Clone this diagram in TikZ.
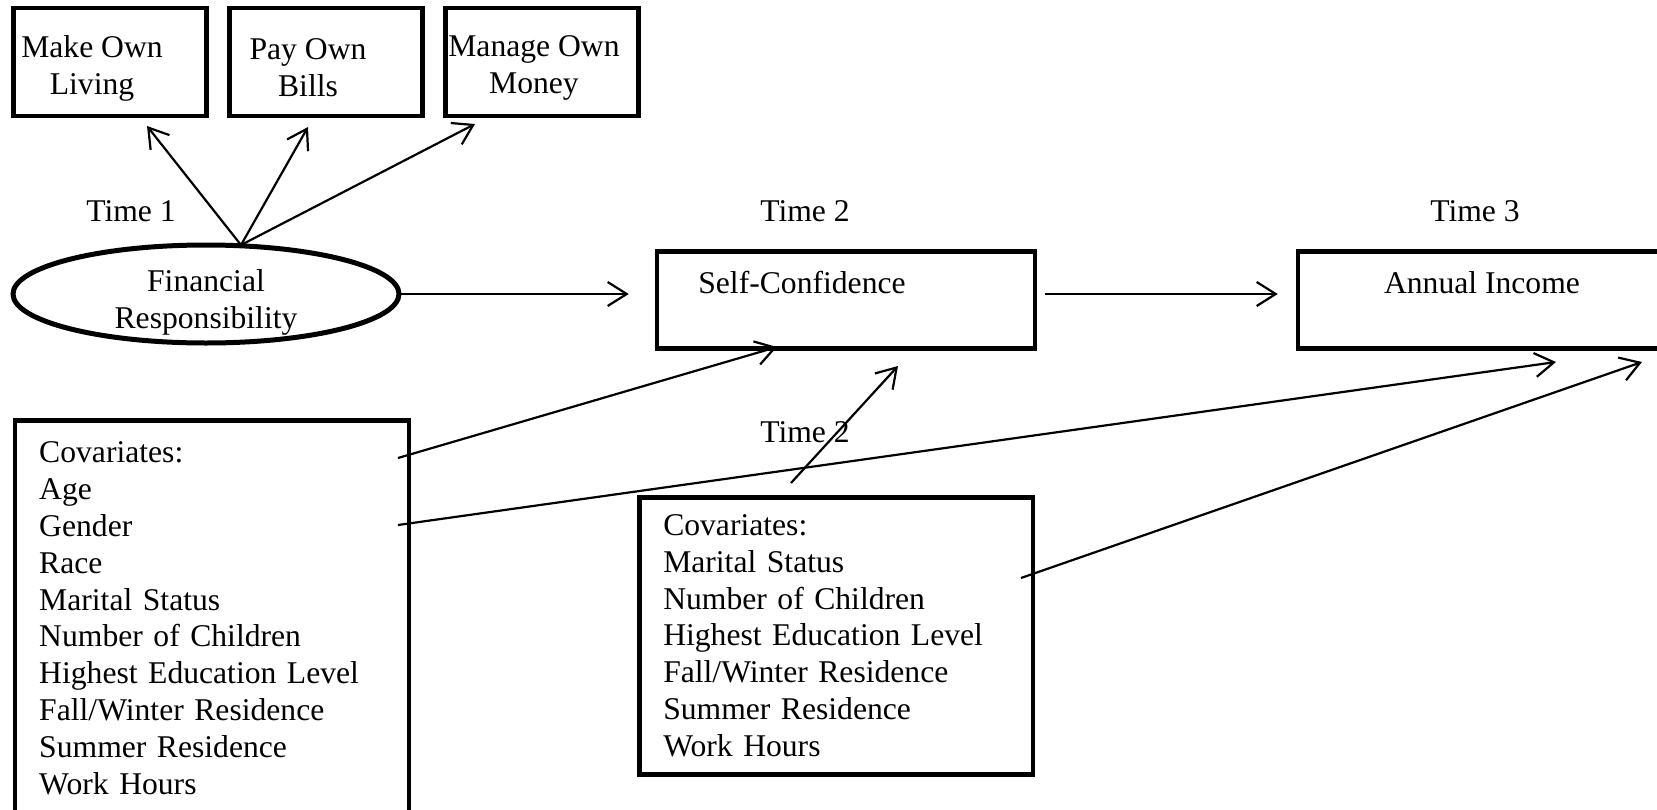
\documentclass[tikz,border=0pt]{standalone}
\usepackage{fontspec}
\setmainfont{Liberation Serif}
\usetikzlibrary{arrows.meta, shapes.geometric, positioning}

\begin{document}
\begin{tikzpicture}[x=0.1mm,y=-0.1mm,node distance=21.6mm,
  font=\fontsize{9}{10.5}\selectfont]
 \tikzstyle{itembox}=[rectangle,draw=black,line width=0.45mm,
   minimum width=19.3mm,minimum height=10.8mm]
 \tikzstyle{mainbox}=[rectangle,draw=black,line width=0.45mm,
   minimum width=37.8mm,minimum height=9.7mm]
 \tikzstyle{covbox}=[rectangle,draw=black,line width=0.45mm,anchor=north west,
   text width=34.6mm,inner xsep=2.4mm,inner ysep=0pt,align=left]
 \tikzstyle{arr}=[-{Straight Barb[length=1.9mm,width=2.4mm]},line width=0.22mm]
 \useasboundingbox (0,0) rectangle (1657,810);
 \node (mol) [itembox,label={[align=center,xshift=-1.8mm,yshift=-0.6mm]center:Make Own\\Living}]
   at (110,62) {};
 \node (pob) [itembox,right of=mol,label={[align=center,xshift=-1.8mm,yshift=-0.6mm]center:Pay Own\\Bills}] {};
 \node (mom) [itembox,right of=pob,label={[align=center,xshift=-0.8mm,yshift=-0.6mm]center:Manage Own\\Money}] {};
 \node (t1) at (131,211) {Time 1};
 \node (t2) at (805,211) {Time 2};
 \node (t3) at (1475,211) {Time 3};
 \node (fr) [ellipse,draw=black,line width=0.5mm,minimum width=38.6mm,
   minimum height=9.8mm,inner sep=0pt,
   label={[align=center,yshift=-0.8mm]center:Financial\\Responsibility}]
   at (206,294) {};
 \node (sc) [mainbox,label={[anchor=north,xshift=-4.4mm,yshift=-1mm]north:Self-Confidence}]
   at (846,300) {};
 \node (ai) [mainbox,label={[anchor=north,xshift=-0.5mm,yshift=-1mm]north:Annual Income}]
   at (1487,300) {};
 \node (cov1) [covbox,minimum height=39.6mm] at (13,418)
   {Covariates:\\Age\\Gender\\Race\\Marital Status\\Number of Children\\
    Highest Education Level\\Fall/Winter Residence\\Summer Residence\\Work Hours};
 \node (t2b) at (805,432) {Time 2};
 \node (cov2) [covbox,minimum height=27.7mm] at (637,495)
   {Covariates:\\Marital Status\\Number of Children\\Highest Education Level\\
    Fall/Winter Residence\\Summer Residence\\Work Hours};
 % free ends of the connectors
 \coordinate (frtop) at (241,245);
 \coordinate (molend) at (147,126);
 \coordinate (pobend) at (308,127);
 \coordinate (momend) at (475,124);
 \coordinate (cvoneage) at (398,458);
 \coordinate (cvonegen) at (398,525);
 \coordinate (cvtwotop) at (791,483);
 \coordinate (cvtwoside) at (1021,578);
 \coordinate (scin) at (777,347);
 \coordinate (scintwo) at (898,366);
 \coordinate (aiin) at (1556,362);
 \coordinate (aiintwo) at (1642,362);
 \draw[arr] (frtop) -- (molend);
 \draw[arr] (frtop) -- (pobend);
 \draw[arr] (frtop) -- (momend);
 \draw[arr,shorten >=2.6mm] (fr.east) -- (fr.east -| sc.west);
 \draw[arr,shorten <=0.8mm,shorten >=1.8mm] (sc.east |- fr.east) -- (ai.west |- fr.east);
 \draw[arr] (cvoneage) -- (scin);
 \draw[arr] (cvonegen) -- (aiin);
 \draw[arr] (cvtwotop) -- (scintwo);
 \draw[arr] (cvtwoside) -- (aiintwo);
\end{tikzpicture}
\end{document}
